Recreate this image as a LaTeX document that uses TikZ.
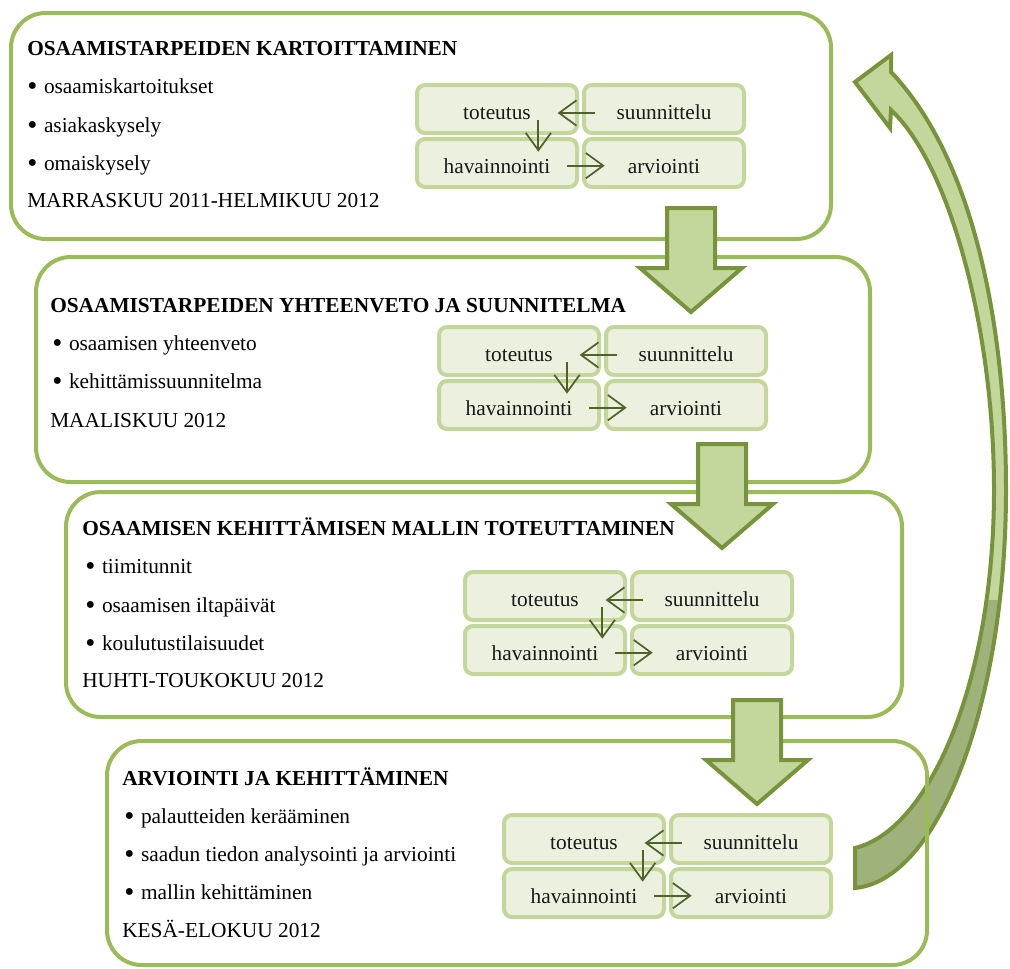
\documentclass[tikz,border=0pt]{standalone}
\usepackage{fontspec}
\setmainfont{Liberation Serif}
\usetikzlibrary{arrows.meta}

\definecolor{boxgreen}{HTML}{9BBB59}
\definecolor{cellline}{HTML}{C4D79B}
\definecolor{cellfill}{HTML}{EBF1DE}
\definecolor{blockfill}{HTML}{C3D69B}
\definecolor{blockline}{HTML}{77933C}
\definecolor{blockshade}{HTML}{A0B27C}
\definecolor{flowgreen}{HTML}{4F6228}

\newcommand{\bul}[1]{\raisebox{-1.9pt}{\scalebox{1.35}{\textbullet}}\hspace{5pt}#1}
\newcommand{\returnpath}{(855,888) .. controls (940,880) and (1006,700) .. (1006,490)
  .. controls (1006,330) and (975,160) .. (891,72) -- (891,55) -- (855,82) -- (890,128) -- (891,110)
  .. controls (950,165) and (994,330) .. (994,490) .. controls (994,680) and (930,830) .. (855,848) -- cycle}

\begin{document}
\begin{tikzpicture}
  [x=0.75pt,y=-0.75pt,
   every node/.style={font=\fontsize{16}{19}\selectfont},
   stage/.style={draw=boxgreen,line width=3pt,rounded corners=26pt},
   title/.style={anchor=base west,inner sep=0pt,font=\fontsize{16}{19}\selectfont\bfseries},
   item/.style={anchor=base west,inner sep=0pt},
   cell/.style={draw=cellline,fill=cellfill,line width=3pt,rounded corners=6pt,
     minimum width=120pt,minimum height=36pt,inner sep=0pt,text=black!90,
     text height=15pt,text depth=0pt},
   flow/.style={draw=flowgreen,line width=1.3pt,-{Straight Barb[length=13pt,width=19pt]}},
   block/.style={fill=blockfill,draw=blockline,line width=3pt,line join=miter}]

  \useasboundingbox (0,0) rectangle (1010,968);

  % big arrow back to the top
  \fill[blockfill] \returnpath;
  \begin{scope}
    \clip (840,600) rectangle (1010,968);
    \fill[blockshade] \returnpath;
  \end{scope}
  \draw[block,fill=none] \returnpath;

  % the four stages
  \draw[stage] (11,13) rectangle (831,239);
  \draw[stage] (36,257) rectangle (870,482);
  \draw[stage] (66,492) rectangle (902,717);
  \draw[stage] (107,741) rectangle (927,965);

  \node[title] (ttl1) at (27,55) {OSAAMISTARPEIDEN KARTOITTAMINEN};
  \node[item] (itm11) at (27,93) {\bul{osaamiskartoitukset}};
  \node[item] (itm12) at (27,132) {\bul{asiakaskysely}};
  \node[item] (itm13) at (27,170) {\bul{omaiskysely}};
  \node[item] (date1) at (27,207) {MARRASKUU 2011-HELMIKUU 2012};

  \node[title] (ttl2) at (50,312) {OSAAMISTARPEIDEN YHTEENVETO JA SUUNNITELMA};
  \node[item] (itm21) at (52,350) {\bul{osaamisen yhteenveto}};
  \node[item] (itm22) at (52,388) {\bul{kehittämissuunnitelma}};
  \node[item] (date2) at (50,427) {MAALISKUU 2012};

  \node[title] (ttl3) at (82,535) {OSAAMISEN KEHITTÄMISEN MALLIN TOTEUTTAMINEN};
  \node[item] (itm31) at (85,573) {\bul{tiimitunnit}};
  \node[item] (itm32) at (85,612) {\bul{osaamisen iltapäivät}};
  \node[item] (itm33) at (85,650) {\bul{koulutustilaisuudet}};
  \node[item] (date3) at (82,687) {HUHTI-TOUKOKUU 2012};

  \node[title] (ttl4) at (122,785) {ARVIOINTI JA KEHITTÄMINEN};
  \node[item] (itm41) at (124,823) {\bul{palautteiden kerääminen}};
  \node[item] (itm42) at (124,861) {\bul{saadun tiedon analysointi ja arviointi}};
  \node[item] (itm43) at (124,899) {\bul{mallin kehittäminen}};
  \node[item] (date4) at (122,937) {KESÄ-ELOKUU 2012};

  % the small cycle in each stage
  \foreach \i/\gx/\gy/\dx in {1/415/83/31, 2/437/325/36, 3/463/570/43, 4/502/813/44} {
    \node[cell] (tot\i) at ({\gx+82},{\gy+26}) {toteutus};
    \node[cell] (suu\i) at ({\gx+249},{\gy+26}) {suunnittelu};
    \node[cell] (hav\i) at ({\gx+82},{\gy+80}) {havainnointi};
    \node[cell] (arv\i) at ({\gx+249},{\gy+80}) {arviointi};
    \draw[flow] ([xshift=10pt,yshift=-3pt]suu\i.west) -- ([xshift=-16pt,yshift=-3pt]tot\i.east);
    \draw[flow] ([xshift=\dx pt,yshift=11pt]tot\i.south) -- ([xshift=\dx pt,yshift=-11pt]hav\i.north);
    \draw[flow] ([xshift=-9pt,yshift=-2pt]hav\i.east) -- ([xshift=17pt,yshift=-2pt]arv\i.west);
  }

  % arrows between the stages
  \foreach \cx/\ty in {691/208, 722/444, 757/700}
    \draw[block] ({\cx-24},\ty) -- ({\cx+24},\ty) -- ({\cx+24},{\ty+60}) -- ({\cx+51},{\ty+60})
      -- (\cx,{\ty+104}) -- ({\cx-51},{\ty+60}) -- ({\cx-24},{\ty+60}) -- cycle;

\end{tikzpicture}
\end{document}
